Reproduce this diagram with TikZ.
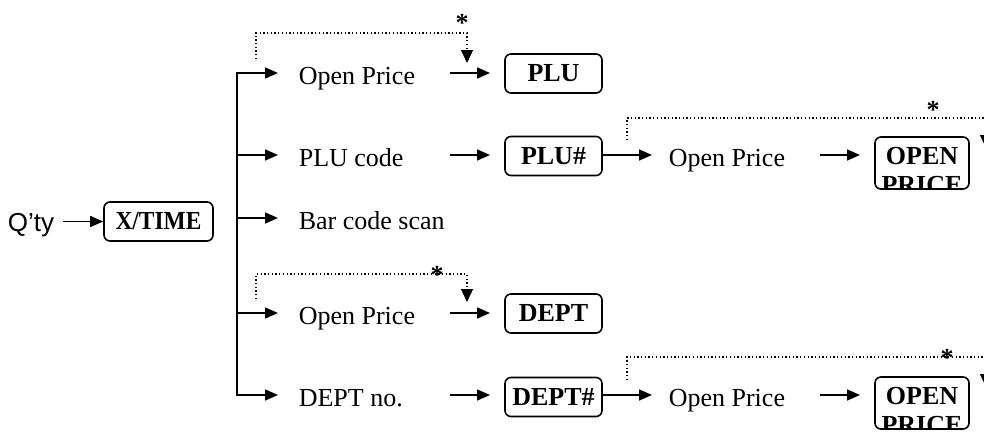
\documentclass[tikz,border=0pt]{standalone}
\usepackage{fontspec}
\setmainfont{Liberation Serif}
\newfontfamily\arialf{Liberation Sans}
\usetikzlibrary{arrows.meta}
\begin{document}
\begin{tikzpicture}[x=1pt,y=-1pt,
  line width=1.6pt,
  arr/.style={-{Triangle[length=13pt,width=11pt]}},
  dots/.style={line width=1.3pt, dash pattern=on 1.3pt off 2.4pt, -{Triangle[length=13pt,width=12pt]}},
  keybox/.style={draw, rounded corners=6pt, line width=1.6pt, minimum width=97pt, minimum height=39pt, inner sep=0pt, font=\fontsize{26}{30}\selectfont\bfseries},
  lbl/.style={anchor=base west, inner sep=0pt, font=\fontsize{26}{30}\selectfont},
  keytxt/.style={anchor=base, inner sep=0pt, font=\fontsize{26}{30}\selectfont\bfseries},
  star/.style={anchor=base, inner sep=0pt, font=\fontsize{26}{30}\selectfont\bfseries}
]
\useasboundingbox (0,0) rectangle (984,431);
\clip (0,0) rectangle (984,431);

% Q'ty and X/TIME
\node[anchor=base west, inner sep=0pt, font=\arialf\fontsize{26}{30}\selectfont] (qty) at (7,231) {Q’ty};
\node[keybox, minimum width=109pt] (xt) at (158.5,221.5) {\scalebox{0.9}[1]{X/TIME}};
\draw[arr] ([xshift=8pt]qty.east |- xt.west) -- (xt.west);

% trunk
\coordinate (t1) at (237,73);
\coordinate (t2) at (237,155);
\coordinate (t3) at (237,218);
\coordinate (t4) at (237,313);
\coordinate (t5) at (237,395);
\draw[line cap=rect] (t1) -- (t5);
\foreach \t in {t1,t2,t3,t4,t5}{\draw[arr] (\t) -- ++(41,0);}

% row 1
\node[lbl] (op1) at (298,84) {Open Price};
\node[keybox] (plu) at (553.5,73.5) {PLU};
\draw[arr] (450,73) -- (490,73);
\draw[dots] (256,59) -- (256,33) -- (467,33) -- (467,63);
\node[star] (s1) at (462,31) {*};

% row 2
\node[lbl] (pc) at (298,166) {PLU code};
\node[keybox] (plun) at (553.5,156) {PLU\#};
\draw[arr] (450,155) -- (490,155);
\draw[arr] (plun.east |- 0,155) -- (652,155);
\node[lbl] (op2) at (668,166) {Open Price};
\draw[arr] (820,155) -- (860,155);
\node[keybox, minimum width=94pt, minimum height=52pt] (open2) at (922,163) {};
\begin{scope}
\clip[rounded corners=6pt] (open2.north west) rectangle (open2.south east);
\node[keytxt] (o2a) at (922,164) {OPEN};
\node[keytxt] (o2b) at (922,193) {PRICE};
\end{scope}
\draw[dots] (627,140) -- (627,118) -- (986,118) -- (986,148);
\node[star] (s2) at (933,118) {*};

% row 3
\node[lbl] (bcs) at (298,229) {Bar code scan};

% row 4
\node[lbl] (op4) at (298,324) {Open Price};
\node[keybox] (dept) at (553.5,313.5) {DEPT};
\draw[arr] (450,313) -- (490,313);
\draw[dots] (256,299) -- (256,274) -- (467,274) -- (467,302);
\node[star] (s4) at (437,283) {*};

% row 5
\node[lbl] (dn) at (298,406) {DEPT no.};
\node[keybox] (deptn) at (553.5,397) {DEPT\#};
\draw[arr] (450,395) -- (490,395);
\draw[arr] (deptn.east |- 0,395) -- (652,395);
\node[lbl] (op5) at (668,406) {Open Price};
\draw[arr] (820,395) -- (860,395);
\node[keybox, minimum width=94pt, minimum height=52pt] (open5) at (922,403) {};
\begin{scope}
\clip[rounded corners=6pt] (open5.north west) rectangle (open5.south east);
\node[keytxt] (o5a) at (922,404) {OPEN};
\node[keytxt] (o5b) at (922,433) {PRICE};
\end{scope}
\draw[dots] (627,380) -- (627,357) -- (986,357) -- (986,387);
\node[star] (s5) at (947,366) {*};
\end{tikzpicture}
\end{document}
